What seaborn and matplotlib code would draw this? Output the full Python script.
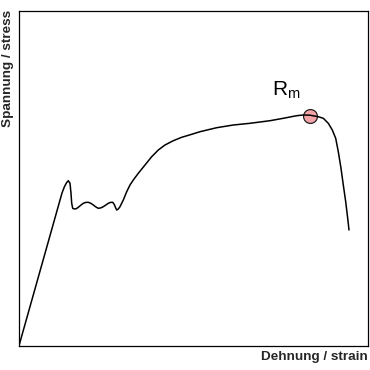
import numpy as np
import pandas as pd
import matplotlib
matplotlib.use("Agg")
import matplotlib.pyplot as plt
import seaborn as sns

# Curve (pixel readings, converted to 0-100 units below)
px = [19.0, 62.0, 64.5, 66.7, 68.3, 70.0, 71.0, 71.7, 72.7, 74.3, 76.5, 78.3,
      80.8, 83.3, 85.8, 88.3, 90.8, 93.3, 95.8, 98.3, 100.8, 103.3, 105.8, 108.3,
      110.5, 112.7, 114.3, 115.5, 116.7, 118.3, 120.0, 123.3, 126.7, 130.0, 133.3,
      138.3, 145.0, 151.7, 158.3, 165.0, 173.3, 181.7, 191.7, 200.0, 216.7, 233.3,
      250.0, 270.0, 283.3, 296.7, 303.3, 310.0, 318.3, 323.3, 328.3, 332.3, 335.7,
      338.3, 341.0, 343.3, 345.7, 347.7, 349.0]
py = [345.7, 193.0, 186.5, 182.5, 180.7, 183.3, 193.3, 203.3, 208.3, 209.0,
      208.6, 207.3, 205.2, 203.3, 202.4, 202.3, 203.3, 205.0, 206.9, 208.3, 207.9,
      206.7, 205.0, 203.3, 202.4, 202.3, 204.5, 207.5, 210.0, 209.0, 206.7, 200.0,
      191.7, 185.0, 180.0, 173.3, 165.0, 156.7, 150.0, 145.0, 140.7, 137.3, 134.3,
      131.7, 127.7, 125.0, 123.3, 120.7, 118.3, 115.7, 115.0, 115.2, 116.7, 118.3,
      123.3, 130.0, 138.3, 151.7, 168.3, 185.0, 201.7, 218.3, 230.0]

strain = [(x - 18.5) / 349.0 * 100 for x in px]
stress = [(345.7 - y) / 335.0 * 100 for y in py]

rm_strain = [(310.0 - 18.5) / 349.0 * 100]
rm_stress = [(345.7 - 116.0) / 335.0 * 100]

sns.set_theme(style="white")
plt.rcParams['font.family'] = ['Liberation Sans', 'DejaVu Sans']
plt.rcParams['mathtext.fontset'] = 'custom'
plt.rcParams['mathtext.rm'] = 'Liberation Sans'
plt.rcParams['mathtext.it'] = 'Liberation Sans'

fig = plt.figure(figsize=(3.7, 3.7), dpi=100)
ax = fig.add_axes([18.5 / 370, (370 - 345.7) / 370, 349.0 / 370, 335.0 / 370])

df = pd.DataFrame({"strain": strain, "stress": stress})
sns.scatterplot(x=rm_strain, y=rm_stress, ax=ax, s=100, color="#f4a4a6",
                edgecolor="#222222", linewidth=0.9, zorder=2)
sns.lineplot(data=df, x="strain", y="stress", sort=False, estimator=None,
             color="black", linewidth=1.1, ax=ax, zorder=3)

ax.text(rm_strain[0] - 2.7, rm_stress[0] + 4.5, r"$\mathregular{R_m}$",
        fontsize=15, ha="right", va="bottom", color="black")

ax.set_xlim(0, 100)
ax.set_ylim(0, 100)
ax.set_xticks([])
ax.set_yticks([])
ax.set_xlabel("")
ax.set_ylabel("")
for s in ax.spines.values():
    s.set_visible(True)
    s.set_color("black")
    s.set_linewidth(0.9)

fig.text(367.5 / 370, 1 - 357 / 370, "Dehnung / strain", ha="right", va="center",
         fontsize=9.7, fontweight="bold")
fig.text(8.5 / 370, 1 - 10 / 370, "Spannung / stress", ha="center", va="top",
         rotation=90, fontsize=9.7, fontweight="bold")

fig.savefig("out.png", dpi=100)
